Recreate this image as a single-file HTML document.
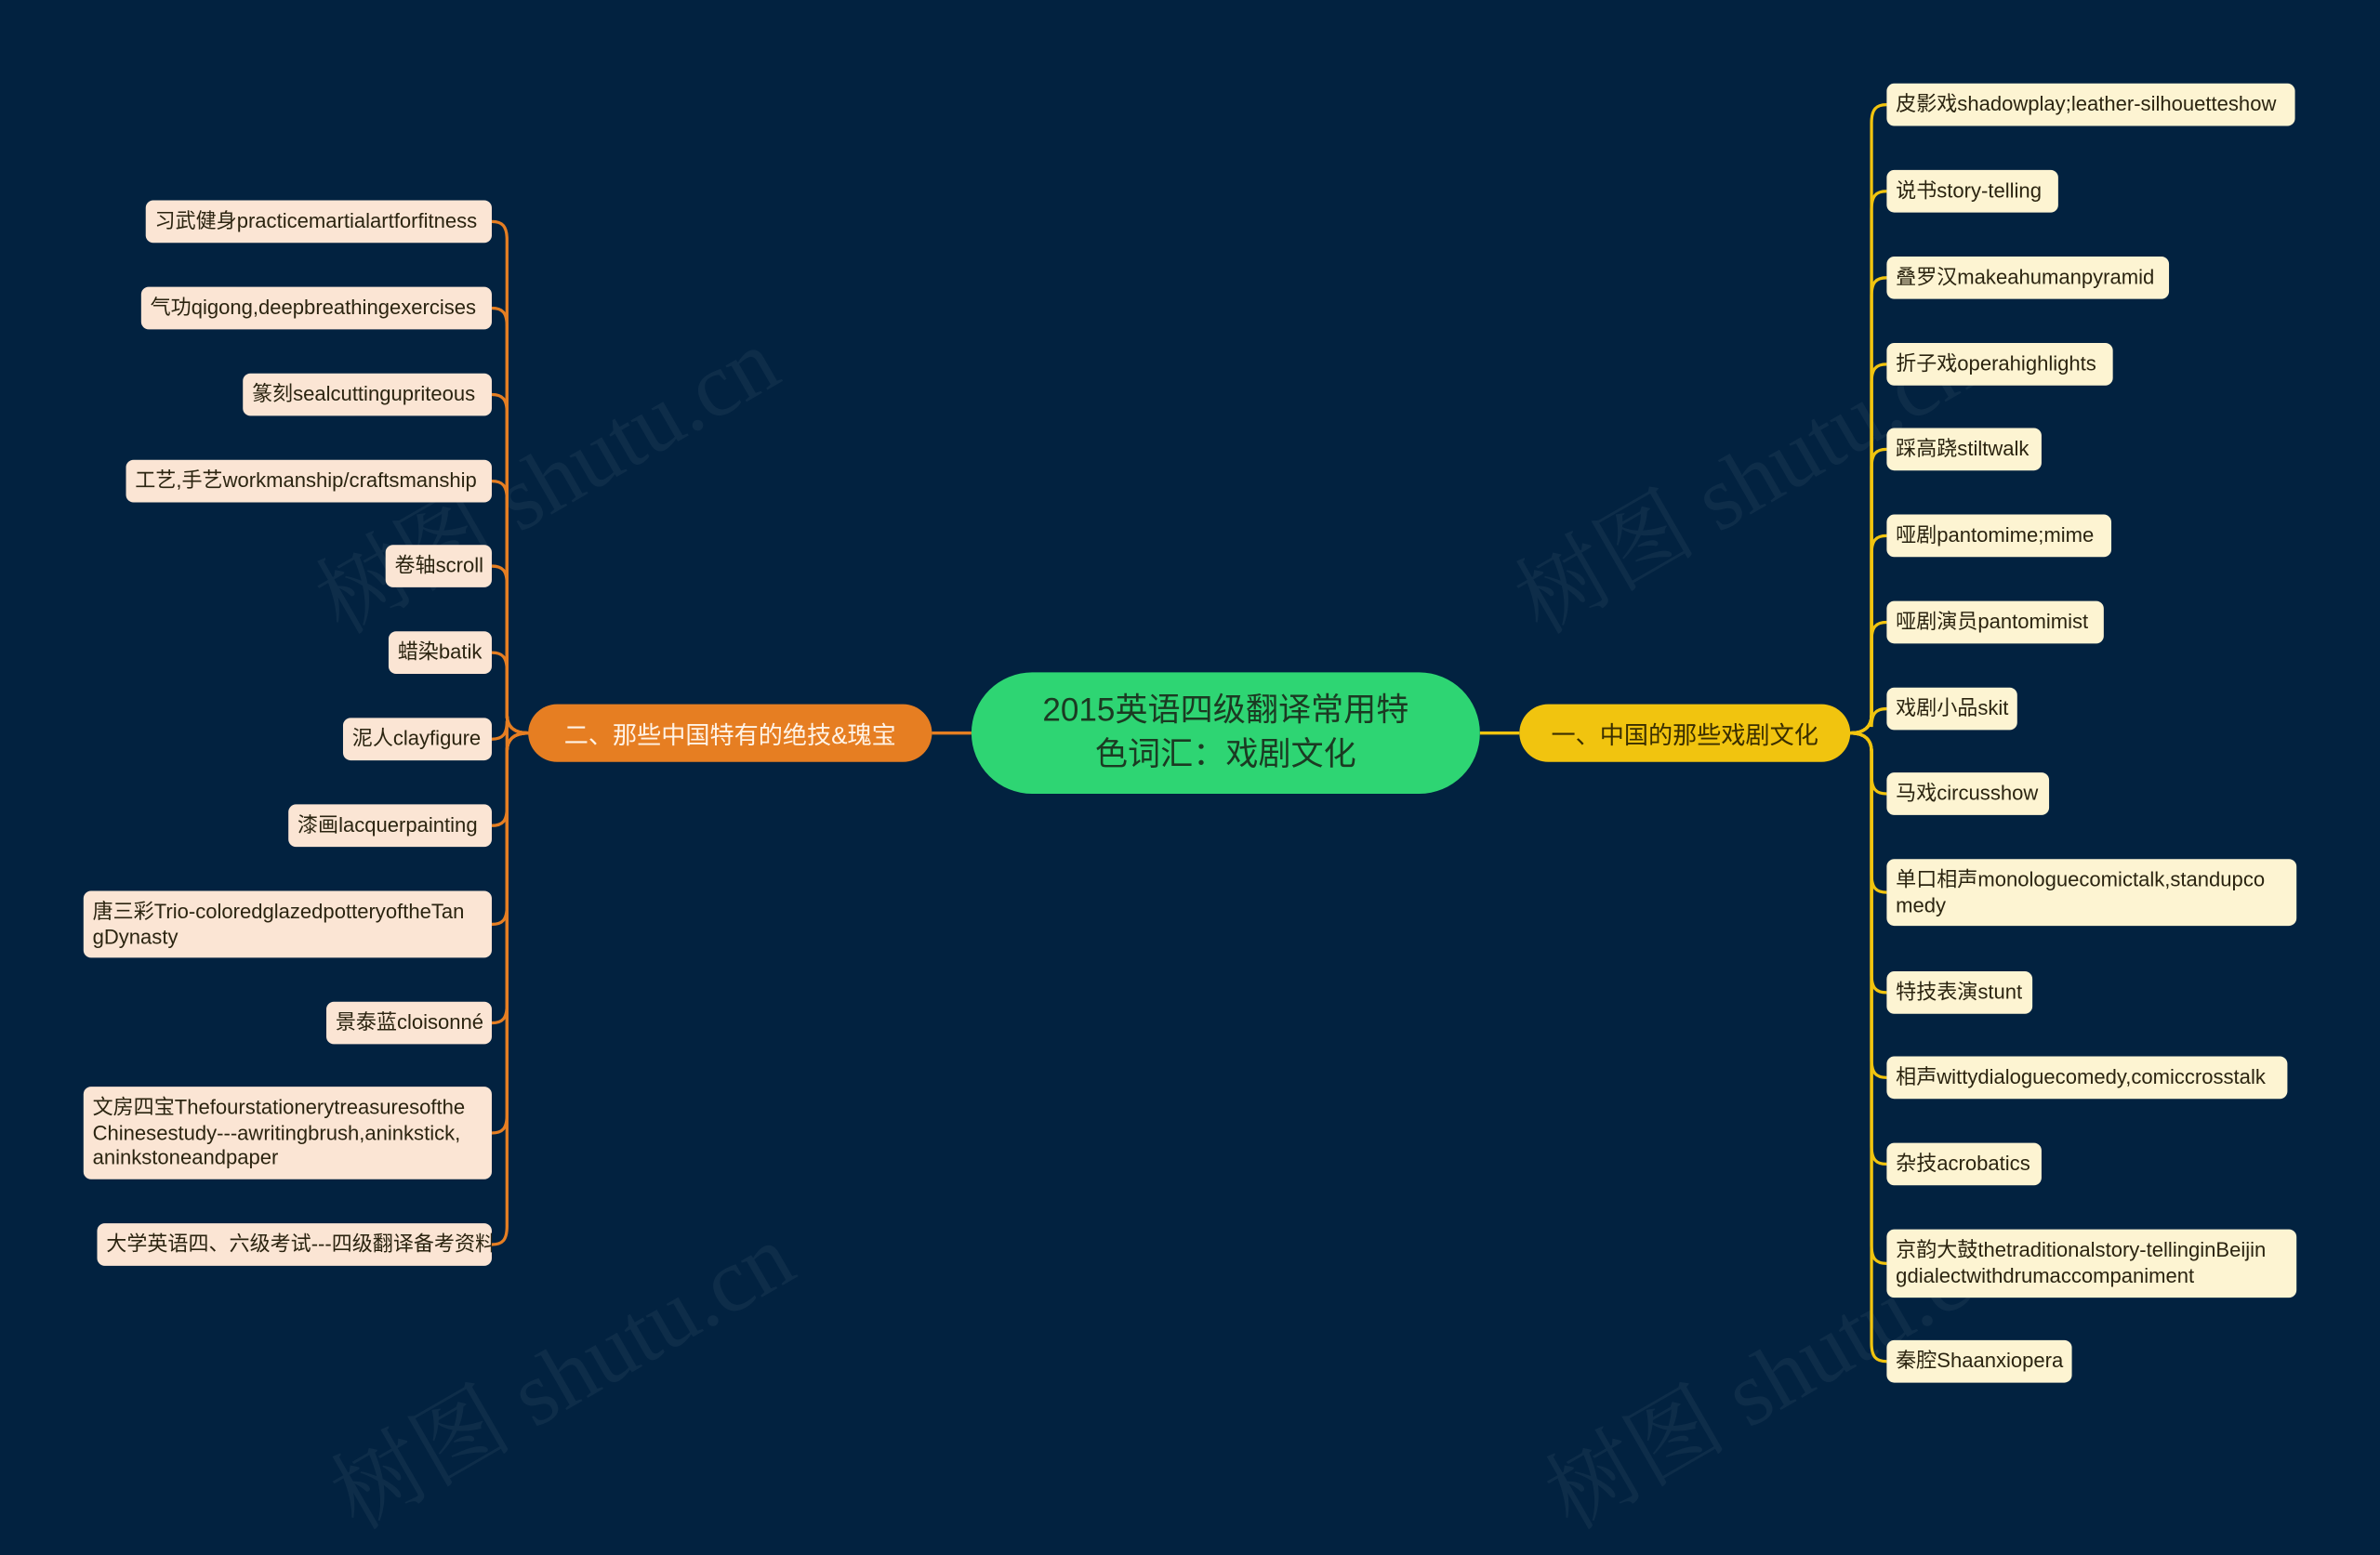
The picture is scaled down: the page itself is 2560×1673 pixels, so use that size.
<!DOCTYPE html>
<html><head><meta charset="utf-8">
<style>
html,body{margin:0;padding:0;background:#022240;overflow:hidden;}
#wrap{position:absolute;left:0;top:0;width:1568px;height:967px;transform:scale(1.63265,1.63289);transform-origin:0 0;background:#022240;}
.n{position:absolute;box-sizing:border-box;border-radius:5px;font-family:"Liberation Sans","Noto Sans CJK SC",sans-serif;font-size:13.5px;line-height:16.5px;color:#2b2410;padding:6px 6px;white-space:nowrap;overflow:hidden;}
.r{background:#fdf4d2;}
.l{background:#fbe5d4;}
.big{position:absolute;box-sizing:border-box;font-family:"Liberation Sans","Noto Sans CJK SC",sans-serif;display:flex;align-items:center;justify-content:center;text-align:center;}
svg{position:absolute;left:0;top:0;}
.wm{position:absolute;font-family:"Liberation Serif","Noto Serif CJK SC",serif;font-size:60px;color:rgba(255,255,255,0.05);transform:rotate(-30deg);white-space:nowrap;}
</style></head><body>
<div id="wrap">
<div class="wm" style="left:190px;top:270px;">树图 shutu.cn</div>
<div class="wm" style="left:980px;top:270px;">树图 shutu.cn</div>
<div class="wm" style="left:200px;top:860px;">树图 shutu.cn</div>
<div class="wm" style="left:1000px;top:860px;">树图 shutu.cn</div>
<svg id="s" width="1568" height="967"></svg>
<div class="big" style="left:640px;top:443px;width:335px;height:80px;border-radius:40px;background:#2ed573;color:#1b3a22;font-size:21.5px;line-height:29px;">2015英语四级翻译常用特<br>色词汇：戏剧文化</div>
<div class="big" style="left:348px;top:464px;width:266px;height:38px;border-radius:19px;background:#e67e22;color:#fff3e6;font-size:16px;">二、那些中国特有的绝技&amp;瑰宝</div>
<div class="big" style="left:1001px;top:464px;width:218px;height:38px;border-radius:19px;background:#f1c40f;color:#3a2e00;font-size:16px;">一、中国的那些戏剧文化</div>
</div>
<script>
var W=document.getElementById('wrap'),S=document.getElementById('s');
var R=[[55,28,1512,"皮影戏shadowplay;leather-silhouetteshow"],[112,28,1356,"说书story-telling"],[169,28,1429,"叠罗汉makeahumanpyramid"],[226,28,1392,"折子戏operahighlights"],[282,28,1345,"踩高跷stiltwalk"],[339,28,1391,"哑剧pantomime;mime"],[396,28,1386,"哑剧演员pantomimist"],[453,28,1329,"戏剧小品skit"],[509,28,1350,"马戏circusshow"],[566,44,1513,"单口相声monologuecomictalk,standupco<br>medy"],[640,28,1339,"特技表演stunt"],[696,28,1507,"相声wittydialoguecomedy,comiccrosstalk"],[753,28,1345,"杂技acrobatics"],[810,45,1513,"京韵大鼓thetraditionalstory-tellinginBeijin<br>gdialectwithdrumaccompaniment"],[883,28,1365,"秦腔Shaanxiopera"]];
var L=[[132,28,96,"习武健身practicemartialartforfitness"],[189,28,93,"气功qigong,deepbreathingexercises"],[246,28,160,"篆刻sealcuttingupriteous"],[303,28,83,"工艺,手艺workmanship/craftsmanship"],[359,28,254,"卷轴scroll"],[416,28,256,"蜡染batik"],[473,28,226,"泥人clayfigure"],[530,28,190,"漆画lacquerpainting"],[587,44,55,"唐三彩Trio-coloredglazedpotteryoftheTan<br>gDynasty"],[660,28,215,"景泰蓝cloisonné"],[716,61,55,"文房四宝Thefourstationerytreasuresofthe<br>Chinesestudy---awritingbrush,aninkstick,<br>aninkstoneandpaper"],[806,28,64,"大学英语四、六级考试---四级翻译备考资料"]];
var p='';
R.forEach(function(a){var d=document.createElement('div');d.className='n r';d.style.left='1243px';d.style.top=a[0]+'px';d.style.width=(a[2]-1243)+'px';d.style.height=a[1]+'px';d.innerHTML=a[3];W.appendChild(d);
var y=a[0]+a[1]/2,x0=1219,xs=1233,sg=y<483?1:-1;
p+='<path d="M'+x0+' 483 C1228 483 '+xs+' '+(483-sg*4)+' '+xs+' '+(483-sg*12)+' L'+xs+' '+(y+sg*12)+' C'+xs+' '+(y+sg*3)+' 1236 '+y+' 1243 '+y+'" stroke="#f1c40f" stroke-width="2" fill="none"/>';});
L.forEach(function(a){var d=document.createElement('div');d.className='n l';d.style.left=a[2]+'px';d.style.top=a[0]+'px';d.style.width=(324-a[2])+'px';d.style.height=a[1]+'px';d.innerHTML=a[3];W.appendChild(d);
var y=a[0]+a[1]/2,x0=348,xs=334,sg=y<483?1:-1;
p+='<path d="M'+x0+' 483 C339 483 '+xs+' '+(483-sg*4)+' '+xs+' '+(483-sg*12)+' L'+xs+' '+(y+sg*12)+' C'+xs+' '+(y+sg*3)+' 331 '+y+' 324 '+y+'" stroke="#e67e22" stroke-width="2" fill="none"/>';});
p+='<line x1="614" y1="483" x2="640" y2="483" stroke="#e67e22" stroke-width="2"/><line x1="975" y1="483" x2="1001" y2="483" stroke="#f1c40f" stroke-width="2"/>';
S.innerHTML=p;
</script>
</body></html>
